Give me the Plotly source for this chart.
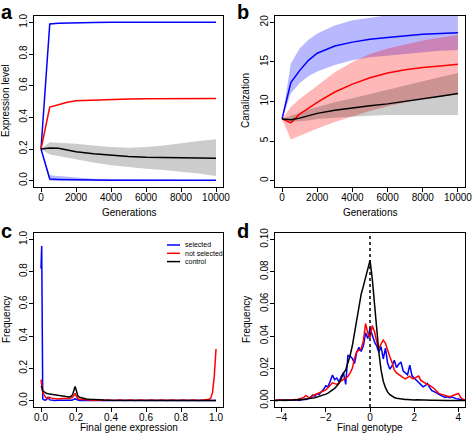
import plotly.graph_objects as go

FONT = "Liberation Sans, Arial, Helvetica, sans-serif"

# ---------------- Panel a / b : generations ----------------
gens = [0, 500, 1000, 1500, 2000, 3000, 4000, 5000, 6000, 7000, 8000, 9000, 10000]

a_blue_hi = [0.2, 0.99, 0.995, 0.997, 0.998, 0.999, 1.0, 1.0, 1.0, 1.0, 1.0, 1.0, 1.0]
a_blue_lo = [0.2, 0.01, 0.008, 0.006, 0.005, 0.004, 0.003, 0.003, 0.002, 0.002, 0.002, 0.002, 0.002]
a_blue_lo_band_hi = [0.2, 0.035, 0.03, 0.025, 0.02, 0.012, 0.01, 0.008, 0.006, 0.005, 0.005, 0.004, 0.004]
a_blue_lo_band_lo = [0.2, 0.0, 0.0, 0.0, 0.0, 0.0, 0.0, 0.0, 0.0, 0.0, 0.0, 0.0, 0.0]
a_red = [0.2, 0.465, 0.48, 0.495, 0.505, 0.51, 0.514, 0.516, 0.517, 0.518, 0.518, 0.519, 0.519]
a_black = [0.2, 0.207, 0.205, 0.195, 0.182, 0.17, 0.16, 0.153, 0.148, 0.146, 0.144, 0.143, 0.142]
a_gray_hi = [0.2, 0.243, 0.24, 0.237, 0.233, 0.222, 0.212, 0.208, 0.212, 0.222, 0.237, 0.25, 0.262]
a_gray_lo = [0.2, 0.165, 0.155, 0.145, 0.135, 0.115, 0.097, 0.085, 0.075, 0.067, 0.058, 0.045, 0.03]

b_blue = [7.8, 12.4, 13.9, 15.2, 16.1, 17.0, 17.5, 17.85, 18.1, 18.3, 18.5, 18.6, 18.7]
b_blue_hi = [7.8, 14.8, 16.7, 17.8, 18.6, 19.6, 20.25, 20.6, 20.9, 21.1, 21.3, 21.4, 21.5]
b_blue_lo = [7.8, 11.0, 12.3, 13.2, 13.8, 14.6, 15.2, 15.6, 15.8, 16.0, 16.2, 16.4, 16.5]
b_red = [7.8, 7.3, 8.4, 9.2, 9.9, 11.2, 12.2, 13.0, 13.6, 14.0, 14.3, 14.5, 14.7]
b_red_hi = [7.8, 9.3, 10.3, 11.2, 12.0, 13.7, 15.0, 16.0, 16.7, 17.2, 17.7, 18.1, 18.4]
b_red_lo = [7.8, 5.2, 5.7, 6.1, 6.6, 7.4, 8.1, 8.8, 9.4, 9.9, 10.3, 10.6, 10.9]
b_black = [7.8, 7.7, 7.9, 8.2, 8.5, 8.9, 9.2, 9.45, 9.7, 10.0, 10.3, 10.65, 11.0]
b_gray_hi = [7.8, 8.2, 8.6, 9.0, 9.3, 9.9, 10.4, 10.95, 11.5, 12.0, 12.6, 13.1, 13.6]
b_gray_lo = [7.8, 7.4, 7.5, 7.6, 7.8, 7.95, 8.1, 8.2, 8.3, 8.3, 8.3, 8.3, 8.3]

# ---------------- Panel c : final gene expression ----------------
c_x = [0, 0.004, 0.01, 0.02, 0.03, 0.04, 0.05, 0.06, 0.08, 0.10, 0.12, 0.14, 0.16, 0.17, 0.18,
       0.19, 0.195, 0.20, 0.21, 0.22, 0.24, 0.26, 0.28, 0.30, 0.33, 0.36, 0.39, 0.42, 0.45, 0.48,
       0.51, 0.54, 0.57, 0.60, 0.63, 0.66, 0.69, 0.72, 0.75, 0.78, 0.81, 0.84, 0.87, 0.90, 0.93,
       0.95, 0.96, 0.97, 0.98, 0.99, 1.0]
c_selected = [0.82, 0.96, 0.01, 0.002, 0.005, 0.02, 0.004, 0.002, 0.001, 0.002, 0.001, 0.002, 0.001, 0.002, 0.003,
              0.01, 0.012, 0.008, 0.002, 0.001, 0.001, 0.0, 0.001, 0.0, 0.001, 0.0, 0.001, 0.0, 0.001, 0.0,
              0.001, 0.0, 0.001, 0.0, 0.001, 0.0, 0.001, 0.0, 0.001, 0.0, 0.001, 0.0, 0.001, 0.0, 0.001,
              0.0, 0.001, 0.0, 0.001, 0.0, 0.0]
c_not_selected = [0.13, 0.10, 0.05, 0.03, 0.015, 0.012, 0.02, 0.015, 0.012, 0.01, 0.012, 0.01, 0.012, 0.015, 0.02,
                  0.035, 0.045, 0.03, 0.012, 0.008, 0.006, 0.004, 0.003, 0.002, 0.003, 0.0, 0.004, 0.0, 0.004, 0.0,
                  0.004, 0.0, 0.004, 0.0, 0.004, 0.0, 0.004, 0.0, 0.004, 0.0, 0.004, 0.0, 0.004, 0.0, 0.004,
                  0.005, 0.008, 0.015, 0.05, 0.15, 0.32]
c_control = [0.09, 0.085, 0.06, 0.05, 0.045, 0.042, 0.04, 0.038, 0.034, 0.03, 0.027, 0.024, 0.022, 0.025, 0.035,
             0.07, 0.088, 0.07, 0.03, 0.02, 0.014, 0.01, 0.008, 0.006, 0.004, 0.003, 0.002, 0.002, 0.001, 0.001,
             0.001, 0.001, 0.001, 0.0, 0.001, 0.0, 0.0, 0.0, 0.0, 0.0, 0.0, 0.0, 0.0, 0.0, 0.0,
             0.0, 0.0, 0.0, 0.0, 0.0, 0.0]

# ---------------- Panel d : final genotype ----------------
d_x = [-4.3, -4.2, -4.1, -4.0, -3.9, -3.8, -3.7, -3.6, -3.5, -3.4, -3.3, -3.2, -3.1, -3.0, -2.9,
       -2.8, -2.7, -2.6, -2.5, -2.4, -2.3, -2.2, -2.1, -2.0, -1.9, -1.8, -1.7, -1.6, -1.5, -1.4,
       -1.3, -1.2, -1.1, -1.0, -0.9, -0.8, -0.7, -0.6, -0.5, -0.4, -0.3, -0.2, -0.1, 0.0, 0.1,
       0.2, 0.3, 0.4, 0.5, 0.6, 0.7, 0.8, 0.9, 1.0, 1.1, 1.2, 1.3, 1.4, 1.5, 1.6,
       1.7, 1.8, 1.9, 2.0, 2.1, 2.2, 2.3, 2.4, 2.5, 2.6, 2.7, 2.8, 2.9, 3.0, 3.1,
       3.2, 3.3, 3.4, 3.5, 3.6, 3.7, 3.8, 3.9, 4.0, 4.1, 4.2, 4.3]
d_control = [0.0, 0.0001, 0.0, 0.0002, 0.0001, 0.0002, 0.0003, 0.0002, 0.0004, 0.0003, 0.0005, 0.0006, 0.0005, 0.0008, 0.0009,
             0.0011, 0.0013, 0.0016, 0.0018, 0.0022, 0.0025, 0.0029, 0.0034, 0.004, 0.0046, 0.0055, 0.0063, 0.0076, 0.009, 0.0108,
             0.0135, 0.017, 0.019, 0.023, 0.028, 0.034, 0.042, 0.05, 0.057, 0.066, 0.071, 0.077, 0.082, 0.087, 0.076,
             0.06, 0.044, 0.03, 0.019, 0.012, 0.008, 0.0052, 0.0036, 0.0026, 0.0019, 0.0014, 0.0011, 0.0009, 0.0007, 0.0006,
             0.0007, 0.0005, 0.0006, 0.0004, 0.0005, 0.0004, 0.0003, 0.0004, 0.0003, 0.0002, 0.0003, 0.0002, 0.0002, 0.0001, 0.0002,
             0.0001, 0.0001, 0.0001, 0.0, 0.0001, 0.0, 0.0001, 0.0, 0.0, 0.0001, 0.0, 0.0]
d_selected = [0.0002, 0.0, 0.0003, 0.0001, 0.0, 0.0002, 0.0001, 0.0003, 0.0, 0.0002, 0.0004, 0.0001, 0.0005, 0.0008, 0.0006,
              0.0012, 0.002, 0.0034, 0.0028, 0.0042, 0.0038, 0.0055, 0.007, 0.0092, 0.0085, 0.012, 0.0158, 0.013, 0.014, 0.0115,
              0.015, 0.0172, 0.01, 0.028, 0.0275, 0.0262, 0.023, 0.03, 0.033, 0.0305, 0.034, 0.042, 0.0385, 0.045, 0.0405,
              0.0365, 0.034, 0.03, 0.0335, 0.0258, 0.0325, 0.023, 0.0195, 0.0215, 0.025, 0.0205, 0.0225, 0.024, 0.0185, 0.0175,
              0.016, 0.022, 0.0155, 0.014, 0.0125, 0.011, 0.0095, 0.0085, 0.0092, 0.0106, 0.008, 0.0062, 0.0055, 0.0045, 0.004,
              0.0032, 0.0025, 0.002, 0.0024, 0.0018, 0.0022, 0.0015, 0.0012, 0.001, 0.0006, 0.0004, 0.0003]
d_not_selected = [0.0, 0.0003, 0.0005, 0.0002, 0.0004, 0.0001, 0.0003, 0.0006, 0.0004, 0.0007, 0.0005, 0.0009, 0.0012, 0.002, 0.003,
                  0.0024, 0.0014, 0.003, 0.0036, 0.004, 0.0046, 0.0052, 0.006, 0.0066, 0.008, 0.0098, 0.011, 0.0105, 0.01, 0.0112,
                  0.0124, 0.0132, 0.014, 0.015, 0.0172, 0.02, 0.0262, 0.0305, 0.0312, 0.032, 0.037, 0.0478, 0.042, 0.039, 0.0465,
                  0.043, 0.0367, 0.0325, 0.035, 0.0375, 0.0355, 0.031, 0.027, 0.0236, 0.019, 0.0172, 0.016, 0.015, 0.0142, 0.0135,
                  0.0142, 0.0152, 0.014, 0.0134, 0.0145, 0.0152, 0.0125, 0.0115, 0.0108, 0.01, 0.0094, 0.0085, 0.0075, 0.006, 0.0046,
                  0.004, 0.0035, 0.003, 0.0026, 0.0024, 0.0028, 0.0032, 0.004, 0.0044, 0.002, 0.0008, 0.0003]

gen_ticks = [0, 2000, 4000, 6000, 8000, 10000]
gen_ticktext = ["0", "2000", "4000", "6000", "8000", "10000"]
unit_ticks = [0, 0.2, 0.4, 0.6, 0.8, 1.0]
canal_ticks = [0, 5, 10, 15, 20]
geno_ticks = [-4, -2, 0, 2, 4]
geno_ticktext = ["\u22124", "\u22122", "0", "2", "4"]
freq_ticks = [0, 0.02, 0.04, 0.06, 0.08, 0.10]

BLUE = "#0000FF"
RED = "#FF0000"
BLACK = "#000000"
BLUE_BAND = "rgba(0,0,255,0.28)"
RED_BAND = "rgba(255,0,0,0.28)"
GRAY_BAND = "rgba(0,0,0,0.2)"

fig = go.Figure()


def band(x, lo, hi, color, xa, ya):
    fig.add_trace(go.Scatter(x=list(x) + list(x)[::-1], y=list(hi) + list(lo)[::-1],
                             fill="toself", fillcolor=color, line=dict(width=0),
                             mode="lines", hoverinfo="skip", showlegend=False,
                             xaxis=xa, yaxis=ya))


def line(x, y, color, xa, ya, name=None):
    fig.add_trace(go.Scatter(x=x, y=y, mode="lines", line=dict(color=color, width=1.5),
                             showlegend=False, name=name, xaxis=xa, yaxis=ya))


# Panel a
band(gens, a_gray_lo, a_gray_hi, GRAY_BAND, "x", "y")
band(gens, a_blue_lo_band_lo, a_blue_lo_band_hi, BLUE_BAND, "x", "y")
line(gens, a_blue_hi, BLUE, "x", "y")
line(gens, a_blue_lo, BLUE, "x", "y")
line(gens, a_red, RED, "x", "y")
line(gens, a_black, BLACK, "x", "y")

# Panel b
band(gens, b_blue_lo, b_blue_hi, BLUE_BAND, "x2", "y2")
band(gens, b_red_lo, b_red_hi, RED_BAND, "x2", "y2")
band(gens, b_gray_lo, b_gray_hi, GRAY_BAND, "x2", "y2")
line(gens, b_blue, BLUE, "x2", "y2")
line(gens, b_red, RED, "x2", "y2")
line(gens, b_black, BLACK, "x2", "y2")

# Panel c
line(c_x, c_selected, BLUE, "x3", "y3", "selected")
line(c_x, c_not_selected, RED, "x3", "y3", "not selected")
line(c_x, c_control, BLACK, "x3", "y3", "control")

# Panel d
line(d_x, d_selected, BLUE, "x4", "y4", "selected")
line(d_x, d_not_selected, RED, "x4", "y4", "not selected")
line(d_x, d_control, BLACK, "x4", "y4", "control")

W, H = 472, 440


def fx(px):
    return px / W


def fy(py):
    return 1 - py / H


base = dict(showline=True, mirror=True, linecolor="black", linewidth=1,
            ticks="outside", ticklen=4, tickwidth=1, tickcolor="black",
            showgrid=False, zeroline=False, automargin=False, fixedrange=True,
            ticklabeloverflow="allow",
            tickfont=dict(family=FONT, size=10, color="black"))
xbase = dict(base, ticklabelstandoff=-3)
ybase = dict(base, ticklabelstandoff=-2, tickangle=-90)

xa_dom = [fx(34), fx(223)]
xb_dom = [fx(275), fx(465)]
top_dom = [fy(187), fy(16)]
bot_dom = [fy(407), fy(233)]

fig.update_layout(
    width=W, height=H, margin=dict(l=0, r=0, t=0, b=0),
    paper_bgcolor="white", plot_bgcolor="white", showlegend=False,
    font=dict(family=FONT, size=10, color="black"),
    xaxis=dict(xbase, domain=xa_dom, range=[-400, 10400], anchor="y",
               tickvals=gen_ticks, ticktext=gen_ticktext),
    yaxis=dict(ybase, domain=top_dom, range=[-0.04, 1.04], anchor="x",
               tickvals=unit_ticks, tickformat=".1f"),
    xaxis2=dict(xbase, domain=xb_dom, range=[-400, 10400], anchor="y2",
                tickvals=gen_ticks, ticktext=gen_ticktext),
    yaxis2=dict(ybase, domain=top_dom, range=[-0.8, 20.8], anchor="x2",
                tickvals=canal_ticks),
    xaxis3=dict(xbase, domain=xa_dom, range=[-0.04, 1.04], anchor="y3",
                tickvals=unit_ticks, tickformat=".1f"),
    yaxis3=dict(ybase, domain=bot_dom, range=[-0.04, 1.04], anchor="x3",
                tickvals=unit_ticks, tickformat=".1f"),
    xaxis4=dict(xbase, domain=xb_dom, range=[-4.3, 4.3], anchor="y4",
                tickvals=geno_ticks, ticktext=geno_ticktext),
    yaxis4=dict(ybase, domain=bot_dom, range=[-0.004, 0.104], anchor="x4",
                tickvals=freq_ticks, tickformat=".2f"),
)

# dotted reference line at genotype 0
fig.add_shape(type="line", xref="x4", yref="y4 domain", x0=0, x1=0, y0=0, y1=1,
              line=dict(color="black", width=1.5, dash="dot"))

annotations = []
# panel letters (box top kept inside the picture)
for txt, x, y in [("a", 0, 0), ("b", 236, 0), ("c", 0, 219), ("d", 236, 219)]:
    annotations.append(dict(text=txt, x=fx(x), y=fy(y), xref="paper", yref="paper",
                            xanchor="left", yanchor="top", showarrow=False,
                            font=dict(family=FONT, size=20, color="black", weight="bold"),
                            borderpad=0))
# axis titles
for txt, x, y in [("Generations", 128.5, 212), ("Generations", 370, 212),
                  ("Final gene expression", 128.5, 427), ("Final genotype", 370, 427)]:
    annotations.append(dict(text=txt, x=fx(x), y=fy(y), xref="paper", yref="paper",
                            xanchor="center", yanchor="middle", showarrow=False,
                            font=dict(family=FONT, size=10, color="black")))
for txt, x, y in [("Expression level", 6, 101), ("Canalization", 246, 101),
                  ("Frequency", 6, 320), ("Frequency", 246, 320)]:
    annotations.append(dict(text=txt, x=fx(x), y=fy(y), xref="paper", yref="paper",
                            xanchor="center", yanchor="middle", showarrow=False, textangle=-90,
                            font=dict(family=FONT, size=10, color="black")))

# legend of panel c
legend_items = [("selected", BLUE), ("not selected", RED), ("control", BLACK)]
for i, (txt, col) in enumerate(legend_items):
    yy = 245 + i * 8.3
    fig.add_shape(type="line", xref="paper", yref="paper", x0=fx(167), x1=fx(180),
                  y0=fy(yy), y1=fy(yy), line=dict(color=col, width=1.5))
    annotations.append(dict(text=txt, x=fx(184), y=fy(yy), xref="paper", yref="paper",
                            xanchor="left", yanchor="middle", showarrow=False,
                            font=dict(family=FONT, size=7, color="black"), borderpad=0))

fig.update_layout(annotations=annotations)

fig.write_html("out.html", config={"displayModeBar": False},
               post_script="document.body.style.margin='0';document.body.style.overflow='hidden';")
